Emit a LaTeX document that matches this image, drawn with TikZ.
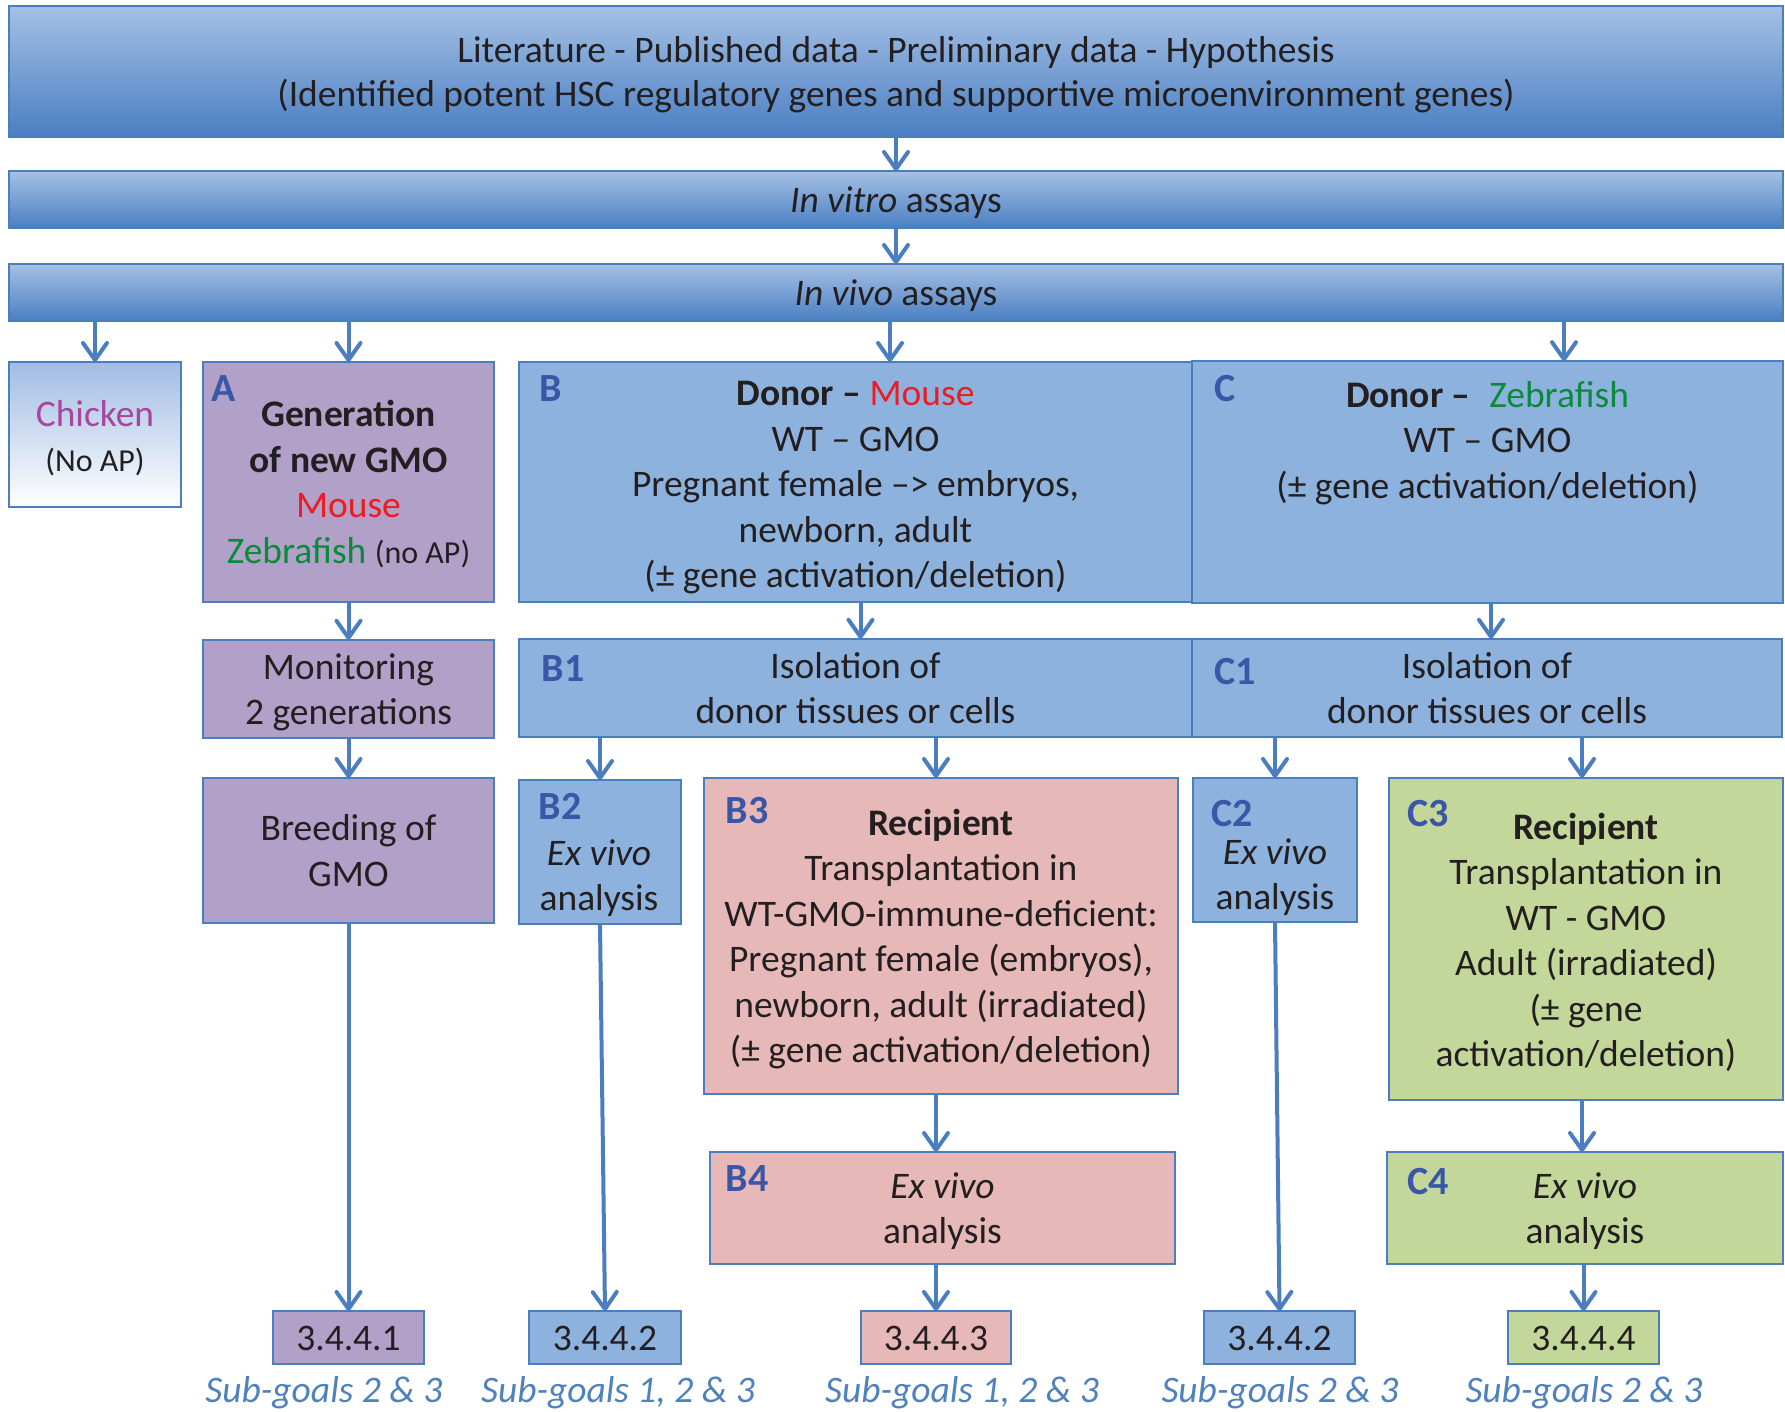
\documentclass[tikz,border=0pt]{standalone}
\usepackage{fontspec}
\setmainfont{Carlito}
\usetikzlibrary{arrows.meta}
\definecolor{bordc}{HTML}{4A7EBF}
\definecolor{arrc}{HTML}{4A7EC0}
\definecolor{bartop}{HTML}{A5C0E5}
\definecolor{barbot}{HTML}{4A7FC2}
\definecolor{chtop}{HTML}{A1BDE3}
\definecolor{bluefill}{HTML}{8EB2DE}
\definecolor{purplefill}{HTML}{B1A0C7}
\definecolor{pinkfill}{HTML}{E6B8B7}
\definecolor{greenfill}{HTML}{C4D79B}
\definecolor{labc}{HTML}{3A57A7}
\definecolor{mred}{HTML}{ED1C24}
\definecolor{zgreen}{HTML}{0B8A3C}
\definecolor{chick}{HTML}{A8459C}
\definecolor{txt}{HTML}{231F20}
\definecolor{subc}{HTML}{4F81BD}
\newcommand{\bt}[1]{\begin{tabular}{@{}c@{}}\rule{0pt}{39.2pt}#1\end{tabular}}
\begin{document}
\begin{tikzpicture}[x=1pt,y=-1pt,
 every node/.style={text=txt, font=\fontsize{37.5}{45.5}\selectfont, inner sep=0pt, outer sep=0pt},
 box/.style={draw=bordc, line width=2pt, rectangle},
 bar/.style={box, top color=bartop, bottom color=barbot, minimum width=1774pt},
 bl/.style={box, fill=bluefill},
 pu/.style={box, fill=purplefill},
 pk/.style={box, fill=pinkfill},
 gr/.style={box, fill=greenfill},
 lab/.style={text=labc, font=\fontsize{40}{48}\selectfont\bfseries},
 arr/.style={draw=arrc, line width=4pt, -{Straight Barb[length=17pt,width=24pt,round]}},
 sub/.style={text=subc, font=\fontsize{37.5}{45.5}\selectfont\itshape},
]
\useasboundingbox (0,0) rectangle (1785,1411);
\fill[white] (0,0) rectangle (1785,1411);

% bars
\node[bar, minimum height=131pt, font=\fontsize{37.5}{44.5}\selectfont] (lit) at (896,71.5)
  {\bt{Literature - Published data - Preliminary data - Hypothesis\\ (Identified potent HSC regulatory genes and supportive microenvironment genes)}};
\node[bar, minimum height=57pt] (vitro) at (896,199.5) {\bt{\textit{In vitro} assays}};
\node[bar, minimum height=57pt] (vivo) at (896,292.5) {\bt{\textit{In vivo} assays}};

% row 1
\node[box, top color=chtop, bottom color=white, minimum width=172pt, minimum height=145pt] (ch) at (95,434.5)
  {\bt{\rule{0pt}{43pt}\textcolor{chick}{Chicken}\\ {\fontsize{32}{45.5}\selectfont (No AP)}}};
\node[pu, minimum width=291pt, minimum height=240pt] (A) at (348.5,482)
  {\bt{\textbf{Generation}\\ \textbf{of new GMO}\\ \textcolor{mred}{Mouse}\\ \textcolor{zgreen}{Zebrafish} {\fontsize{32}{45.5}\selectfont(no AP)}}};
\node[bl, minimum width=673pt, minimum height=240pt] (B) at (855.5,482)
  {\bt{\rule{0pt}{43pt}\textbf{Donor –} \textcolor{mred}{Mouse}\\ WT – GMO\\ Pregnant female –> embryos,\\ newborn, adult\\ (± gene activation/deletion)}};
\node[bl, minimum width=591pt, minimum height=240pt] (C) at (1487.5,482)
  {\bt{\rule{0pt}{46pt}\textbf{Donor –}\enspace\textcolor{zgreen}{Zebrafish}\\ WT – GMO\\ (± gene activation/deletion)\\ ~\\ ~}};

% row 2
\node[pu, minimum width=291pt, minimum height=98pt] (Mon) at (348.5,689) {\bt{Monitoring\\ 2 generations}};
\node[bl, minimum width=673pt, minimum height=90pt] (B1) at (855.5,688) {\bt{Isolation of\\ donor tissues or cells}};
\node[bl, minimum width=590pt, minimum height=90pt] (C1) at (1487,688) {\bt{Isolation of\\ donor tissues or cells}};

% row 3
\node[pu, minimum width=291pt, minimum height=145pt] (Br) at (348.5,850.5) {\bt{Breeding of\\ GMO}};
\node[bl, minimum width=162pt, minimum height=144pt] (B2) at (600,852) {};
\node[align=center] (B2t) at (599,878) {\textit{Ex vivo}\\ analysis};
\node[pk, minimum width=474pt, minimum height=316pt] (B3) at (941,936)
  {\bt{\textbf{Recipient}\\ Transplantation in\\ WT-GMO-immune-deficient:\\ Pregnant female (embryos),\\ newborn, adult (irradiated)\\ (± gene activation/deletion)}};
\node[bl, minimum width=164pt, minimum height=144pt] (C2) at (1275,850) {};
\node[align=center] (C2t) at (1275,877) {\textit{Ex vivo}\\ analysis};
\node[gr, minimum width=394pt, minimum height=322pt] (C3) at (1586,939)
  {\bt{\rule{0pt}{42pt}\textbf{Recipient}\\ Transplantation in\\ WT - GMO\\ Adult (irradiated)\\ (± gene\\ activation/deletion)}};

% row 4
\node[pk, minimum width=465pt, minimum height=112pt] (B4) at (942.5,1208) {\bt{\textit{Ex vivo}\\ analysis}};
\node[gr, minimum width=396pt, minimum height=112pt] (C4) at (1585,1208) {\bt{\textit{Ex vivo}\\ analysis}};

% small boxes
\node[pu, minimum width=151pt, minimum height=53pt] (s1) at (348.5,1337.5) {\bt{3.4.4.1}};
\node[bl, minimum width=152pt, minimum height=53pt] (s2) at (605,1337.5) {\bt{3.4.4.2}};
\node[pk, minimum width=150pt, minimum height=53pt] (s3) at (936,1337.5) {\bt{3.4.4.3}};
\node[bl, minimum width=151pt, minimum height=53pt] (s4) at (1279.5,1337.5) {\bt{3.4.4.2}};
\node[gr, minimum width=151pt, minimum height=53pt] (s5) at (1583.5,1337.5) {\bt{3.4.4.4}};

% sub-goals
\node[sub] (g1) at (324,1392.5) {Sub-goals 2 \& 3};
\node[sub] (g2) at (618,1392.5) {Sub-goals 1, 2 \& 3};
\node[sub] (g3) at (962,1392.5) {Sub-goals 1, 2 \& 3};
\node[sub] (g4) at (1280,1392.5) {Sub-goals 2 \& 3};
\node[sub] (g5) at (1584,1392.5) {Sub-goals 2 \& 3};

% letter labels
\node[lab] (lA) at (224,389) {A};
\node[lab] (lB) at (551,389) {B};
\node[lab] (lC) at (1225,389) {C};
\node[lab] (lB1) at (563,669) {B1};
\node[lab] (lC1) at (1235,672) {C1};
\node[lab] (lB2) at (560,806) {B2};
\node[lab] (lB3) at (747,811) {B3};
\node[lab] (lC2) at (1232,814) {C2};
\node[lab] (lC3) at (1428,814) {C3};
\node[lab] (lB4) at (747,1179) {B4};
\node[lab] (lC4) at (1428,1182) {C4};

% connectors
\coordinate (Bin) at ([xshift=34.5pt]B.north);
\coordinate (Cin) at ([xshift=76.5pt]C.north);
\coordinate (B1in) at ([xshift=5pt]B1.north);
\coordinate (C1in) at ([xshift=4pt]C1.north);
\coordinate (B3in) at ([xshift=-5pt]B3.north);
\coordinate (C3in) at ([xshift=-4pt]C3.north);

\draw[arr] (lit.south) -- (vitro.north);
\draw[arr] (vitro.south) -- (vivo.north);
\draw[arr] (vivo.south -| ch.north) -- (ch.north);
\draw[arr] (vivo.south -| A.north) -- (A.north);
\draw[arr] (vivo.south -| Bin) -- (Bin);
\draw[arr] (vivo.south -| Cin) -- (Cin);
\draw[arr] (A.south) -- (Mon.north);
\draw[arr] (B.south -| B1in) -- (B1in);
\draw[arr] (C.south -| C1in) -- (C1in);
\draw[arr] (Mon.south) -- (Br.north);
\draw[arr] (B1.south -| B2.north) -- (B2.north);
\draw[arr] (B1.south -| B3in) -- (B3in);
\draw[arr] (C1.south -| C2.north) -- (C2.north);
\draw[arr] (C1.south -| C3in) -- (C3in);
\draw[arr] (B3.south -| B3in) -- (B4.north -| B3in);
\draw[arr] (C3.south -| C3in) -- (C4.north -| C3in);
\draw[arr] (Br.south) -- (s1.north);
\draw[arr] (B2.south) -- (s2.north);
\draw[arr] (B4.south -| s3.north) -- (s3.north);
\draw[arr] (C2.south) -- (s4.north);
\draw[arr] (C4.south -| s5.north) -- (s5.north);
\end{tikzpicture}
\end{document}
